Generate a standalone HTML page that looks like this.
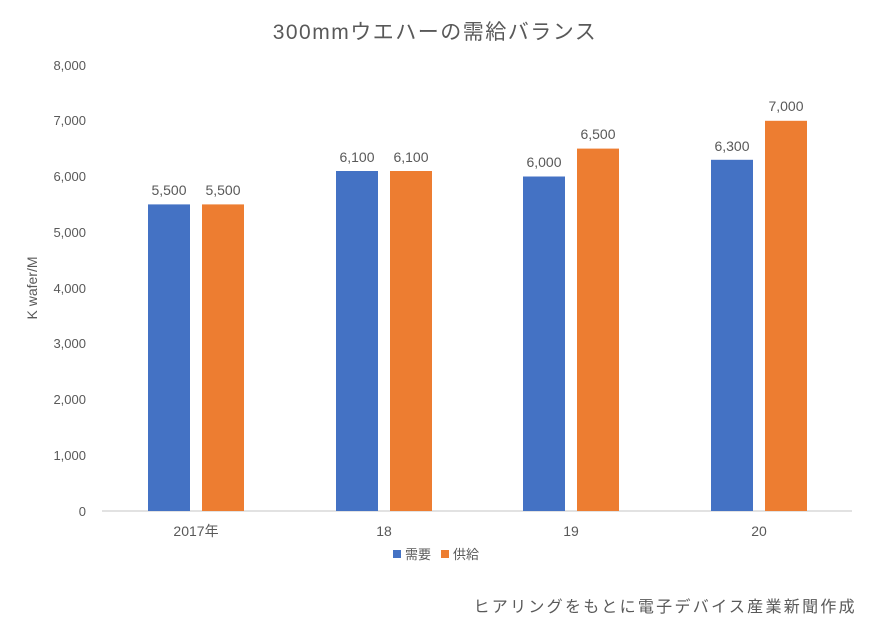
<!DOCTYPE html>
<html><head><meta charset="utf-8"><style>
body{margin:0;background:#fff}
svg text{font-family:"Liberation Sans","Noto Sans CJK JP",sans-serif;fill:#595959}
</style></head><body>
<svg width="870" height="628" xmlns="http://www.w3.org/2000/svg">
<rect width="870" height="628" fill="#fff"/>
<text x="435" y="39" font-size="21" text-anchor="middle" fill="#404040" letter-spacing="1.5">300mmウエハーの需給バランス</text>
<g font-size="13" text-anchor="end">
<text x="86" y="516">0</text>
<text x="86" y="460">1,000</text>
<text x="86" y="404">2,000</text>
<text x="86" y="348">3,000</text>
<text x="86" y="293">4,000</text>
<text x="86" y="237">5,000</text>
<text x="86" y="181">6,000</text>
<text x="86" y="125">7,000</text>
<text x="86" y="70">8,000</text>
</g>
<text transform="translate(37,288) rotate(-90)" font-size="14" text-anchor="middle">K wafer/M</text>
<line x1="102" y1="511" x2="852" y2="511" stroke="#d9d9d9" stroke-width="1.5"/>
<g fill="#4472C4">
<rect x="148" y="204.4" width="42" height="306.6"/>
<rect x="336" y="171" width="42" height="340"/>
<rect x="523" y="176.5" width="42" height="334.5"/>
<rect x="711" y="159.8" width="42" height="351.2"/>
</g>
<g fill="#ED7D31">
<rect x="202" y="204.4" width="42" height="306.6"/>
<rect x="390" y="171" width="42" height="340"/>
<rect x="577" y="148.6" width="42" height="362.4"/>
<rect x="765" y="120.8" width="42" height="390.2"/>
</g>
<g font-size="14" text-anchor="middle" fill="#404040">
<text x="169" y="195">5,500</text><text x="223" y="195">5,500</text>
<text x="357" y="162">6,100</text><text x="411" y="162">6,100</text>
<text x="544" y="167">6,000</text><text x="598" y="139">6,500</text>
<text x="732" y="151">6,300</text><text x="786" y="111">7,000</text>
</g>
<g font-size="14" text-anchor="middle">
<text x="196" y="536">2017年</text>
<text x="384" y="536">18</text>
<text x="571" y="536">19</text>
<text x="759" y="536">20</text>
</g>
<rect x="393" y="550" width="8" height="8" fill="#4472C4"/>
<text x="405" y="559" font-size="13">需要</text>
<rect x="441" y="550" width="8" height="8" fill="#ED7D31"/>
<text x="453" y="559" font-size="13">供給</text>
<text x="857" y="612" font-size="16" text-anchor="end" fill="#404040" letter-spacing="2.3">ヒアリングをもとに電子デバイス産業新聞作成</text>
</svg>
</body></html>
